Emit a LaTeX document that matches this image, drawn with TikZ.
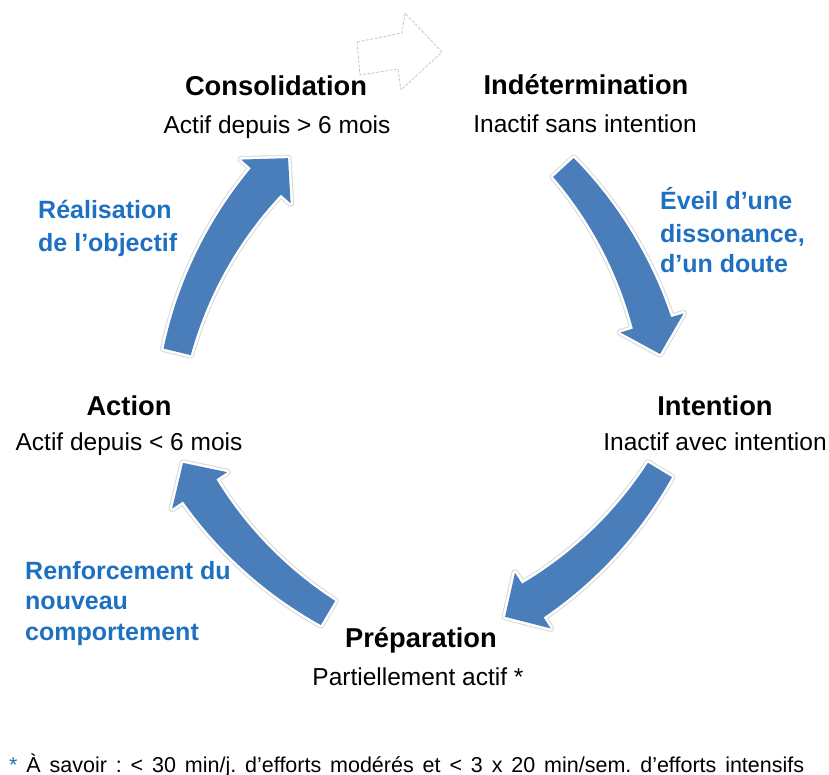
\documentclass[tikz,border=0pt]{standalone}
\usepackage{fontspec}
\setmainfont{Liberation Sans}
\definecolor{arrowblue}{HTML}{4A7EBB}
\definecolor{labelblue}{HTML}{1F70C1}
\tikzset{
  stagetitle/.style={anchor=base, inner sep=0pt, font=\fontsize{27.3}{30}\selectfont\bfseries},
  stagesub/.style={anchor=base, inner sep=0pt, font=\fontsize{24.5}{28}\selectfont},
  translabel/.style={anchor=base west, inner sep=0pt, text=labelblue, font=\fontsize{25}{29}\selectfont\bfseries},
  cyclearrowstyle/.style={fill=arrowblue, line join=round,
    preaction={draw=gray!30, line width=7pt, line join=round},
    preaction={draw=white, line width=5pt, line join=round}},
  hollowarrow/.style={draw=gray!45, line width=0.8pt, dash pattern=on 3pt off 1.5pt, line join=round}
}
% #1 cx, #2 cy, #3 tail angle, #4 head base angle, #5 tip angle
\newcommand\cyclearrow[5]{%
  \path[cyclearrowstyle]
    plot[variable=\t, domain=#3:#4, samples=30]
      ({#1+(414+6*(\t-(#3))/((#4)-(#3)))*cos(\t)}, {#2+(414+6*(\t-(#3))/((#4)-(#3)))*sin(\t)})
    -- ({#1+433*cos(#4)}, {#2+433*sin(#4)})
    -- ({#1+400*cos(#5)}, {#2+400*sin(#5)})
    -- ({#1+367*cos(#4)}, {#2+367*sin(#4)})
    -- plot[variable=\t, domain=#4:#3, samples=30]
      ({#1+(386-6*(\t-(#3))/((#4)-(#3)))*cos(\t)}, {#2+(386-6*(\t-(#3))/((#4)-(#3)))*sin(\t)})
    -- cycle;
}
\begin{document}
\begin{tikzpicture}[x=1pt, y=-1pt]
\useasboundingbox (0,0) rectangle (829,775);

% hollow arrow at top
\draw[hollowarrow] (357,42) -- (402,33) -- (405,13) -- (442,52) -- (401,90) -- (398,69) -- (360,75) -- cycle;

% cycle arrows
\cyclearrow{565.9}{445.9}{193.6}{221.4}{226.0}
\cyclearrow{269}{438.2}{-42.6}{-16.75}{-12.15}
\cyclearrow{317.3}{263.6}{31.06}{57.4}{62.0}
\cyclearrow{533.2}{269.6}{120.86}{146.5}{151.1}

% stages
\node[stagetitle] (consol) at (276,96) {Consolidation};
\node[stagesub] (consolsub) at (277,134) {Actif depuis > 6 mois};
\node[stagetitle] (indet) at (586,95) {Indétermination};
\node[stagesub] (indetsub) at (585,133) {Inactif sans intention};
\node[stagetitle] (inten) at (715,415) {Intention};
\node[stagesub] (intensub) at (715,450) {Inactif avec intention};
\node[stagetitle] (prep) at (421,647) {Préparation};
\node[stagesub] (prepsub) at (418,685) {Partiellement actif *};
\node[stagetitle] (action) at (129,415) {Action};
\node[stagesub] (actionsub) at (129,450) {Actif depuis < 6 mois};

% transition labels
\node[translabel] (real1) at (38,219) {Réalisation};
\node[translabel] (real2) at (38,252) {de l’objectif};
\node[translabel] (eveil1) at (660,210) {Éveil d’une};
\node[translabel] (eveil2) at (660,243) {dissonance,};
\node[translabel] (eveil3) at (660,273) {d’un doute};
\node[translabel] (renf1) at (25,579) {Renforcement du};
\node[translabel] (renf2) at (25,609) {nouveau};
\node[translabel] (renf3) at (25,640) {comportement};

% footnote
\node[anchor=base west, inner sep=0pt, font=\fontsize{21.5}{24}\selectfont] (note) at (9,772)
  {\frenchspacing\makebox[795pt][s]{\textcolor{labelblue}{*} À savoir : < 30 min/j. d’efforts modérés et < 3 x 20 min/sem. d’efforts intensifs}};
\end{tikzpicture}
\end{document}
